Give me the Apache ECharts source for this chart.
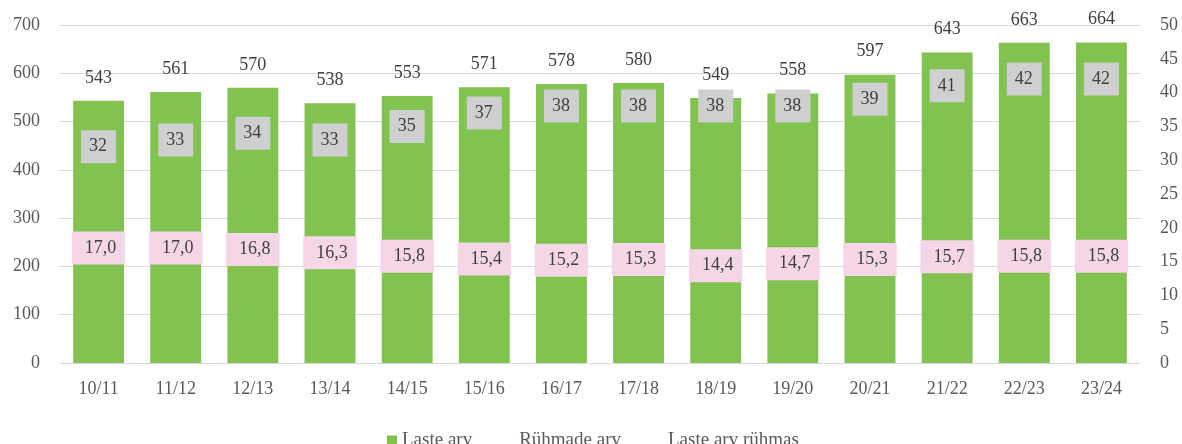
<!DOCTYPE html>
<html><head><meta charset="utf-8">
<script src="https://cdn.jsdelivr.net/npm/echarts@6/dist/echarts.min.js"></script>
<style>html,body{margin:0;padding:0;background:#fff}#c{width:1182px;height:444px}</style>
</head><body><div id="c"></div>
<script>
const categories = ['10/11','11/12','12/13','13/14','14/15','15/16','16/17','17/18','18/19','19/20','20/21','21/22','22/23','23/24'];
const lasteArv = [543,561,570,538,553,571,578,580,549,558,597,643,663,664];
const ryhmadeArv = [32,33,34,33,35,37,38,38,38,38,39,41,42,42];
const lasteArvRyhmas = [17.0,17.0,16.8,16.3,15.8,15.4,15.2,15.3,14.4,14.7,15.3,15.7,15.8,15.8];

const FONT = '"Liberation Serif", "DejaVu Serif", serif';
const chart = echarts.init(document.getElementById('c'), null, {renderer:'canvas'});
chart.setOption({
  animation:false,
  textStyle:{fontFamily:FONT},
  grid:{left:60,right:42,top:25,bottom:81,containLabel:false},
  legend:{
    left:382, top:426, itemWidth:10, itemHeight:10, itemGap:32,
    textStyle:{fontFamily:FONT,fontSize:19,color:'#595959'},
    data:[
      {name:'Laste arv', icon:'rect'},
      {name:'Rühmade arv', icon:'rect', itemStyle:{opacity:0}},
      {name:'Laste arv rühmas', icon:'rect', itemStyle:{opacity:0}}
    ]
  },
  xAxis:{
    type:'category', data:categories,
    axisLine:{lineStyle:{color:'#d9d9d9',width:1}},
    axisTick:{show:false},
    axisLabel:{fontFamily:FONT,fontSize:18,color:'#595959',margin:17}
  },
  yAxis:[
    {type:'value',min:0,max:700,interval:100,
     axisLine:{show:false},axisTick:{show:false},
     splitLine:{lineStyle:{color:'#d9d9d9',width:1}},
     axisLabel:{fontFamily:FONT,fontSize:18,color:'#595959',margin:20}},
    {type:'value',min:0,max:50,interval:5,
     axisLine:{show:false},axisTick:{show:false},splitLine:{show:false},
     axisLabel:{fontFamily:FONT,fontSize:18,color:'#595959',margin:20}}
  ],
  series:[
    {name:'Laste arv',type:'bar',data:lasteArv,barWidth:'66%',
     itemStyle:{color:'#81c250'},
     label:{show:true,position:'top',distance:14,fontFamily:FONT,fontSize:18,color:'#404040'}},
    {name:'Rühmade arv',type:'line',yAxisIndex:1,data:ryhmadeArv,z:5,
     symbol:'circle',symbolSize:1,showSymbol:true,
     lineStyle:{opacity:0},itemStyle:{color:'rgba(0,0,0,0)'},
     label:{show:true,position:'inside',fontFamily:FONT,fontSize:18,color:'#404040',
       backgroundColor:'#cdcfd0',padding:[7,9,6,8],lineHeight:20}},
    {name:'Laste arv rühmas',type:'line',yAxisIndex:1,data:lasteArvRyhmas,z:6,
     symbol:'circle',symbolSize:1,showSymbol:true,
     lineStyle:{opacity:0},itemStyle:{color:'rgba(0,0,0,0)'},
     label:{show:true,position:'inside',fontFamily:FONT,fontSize:18,color:'#404040',
       backgroundColor:'#f5d6e6',padding:[7,9,6,13],lineHeight:20,
       formatter:p=>p.value.toFixed(1).replace('.',',')}}
  ]
});
</script></body></html>
